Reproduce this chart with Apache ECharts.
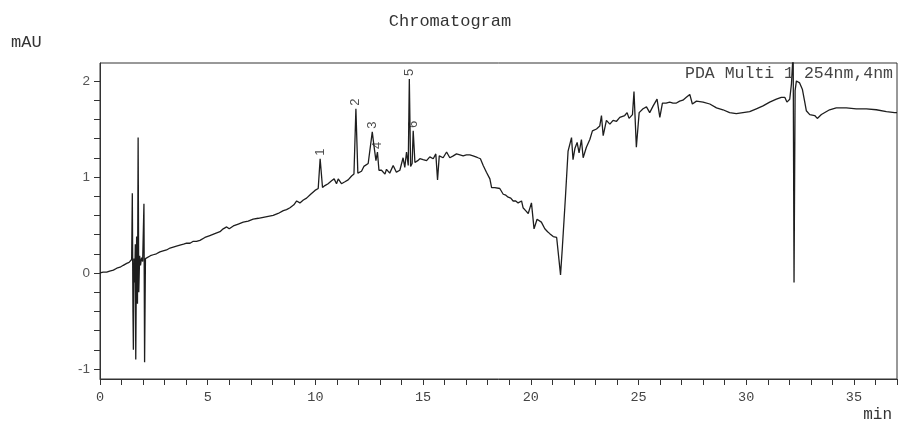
<!DOCTYPE html>
<html>
<head>
<meta charset="utf-8">
<script src="https://cdn.jsdelivr.net/npm/echarts@6/dist/echarts.min.js"></script>
<style>
  html, body { margin: 0; padding: 0; background: #fff; }
  #chart { width: 900px; height: 422px; }
</style>
</head>
<body>
<div id="chart"></div>
<script>
// Retention time (min) of each recorded point
const retentionTime = [
  0.00, 0.15, 0.31, 0.45, 0.62, 0.78, 0.93, 1.08, 1.24, 1.35,
  1.47, 1.50, 1.53, 1.55, 1.58, 1.61, 1.64, 1.66, 1.70, 1.74,
  1.77, 1.80, 1.84, 1.88, 1.93, 1.98, 2.02, 2.04, 2.07, 2.11,
  2.20, 2.34, 2.47, 2.62, 2.78, 2.93, 3.09, 3.25, 3.40, 3.55,
  3.71, 3.88, 4.02, 4.18, 4.33, 4.48, 4.64, 4.87, 5.10, 5.33,
  5.57, 5.72, 5.88, 6.00, 6.06, 6.19, 6.42, 6.65, 6.88, 7.11,
  7.35, 7.58, 7.81, 8.04, 8.27, 8.51, 8.66, 8.82, 9.00, 9.13,
  9.28, 9.44, 9.59, 9.78, 9.98, 10.13, 10.22, 10.33, 10.44, 10.59,
  10.75, 10.87, 10.98, 11.06, 11.21, 11.37, 11.52, 11.68, 11.79, 11.88,
  11.97, 12.14, 12.25, 12.45, 12.64, 12.71, 12.81, 12.88, 12.95, 13.07,
  13.23, 13.30, 13.45, 13.61, 13.76, 13.92, 14.07, 14.15, 14.23, 14.31,
  14.36, 14.42, 14.49, 14.54, 14.62, 14.75, 14.85, 15.00, 15.16, 15.31,
  15.47, 15.59, 15.67, 15.75, 15.93, 16.09, 16.24, 16.40, 16.55, 16.71,
  16.86, 17.01, 17.17, 17.32, 17.45, 17.55, 17.66, 17.79, 17.94, 18.10,
  18.18, 18.33, 18.56, 18.72, 18.84, 18.95, 19.07, 19.18, 19.30, 19.41,
  19.57, 19.64, 19.76, 19.88, 20.03, 20.15, 20.29, 20.49, 20.65, 20.78,
  20.88, 21.04, 21.11, 21.20, 21.27, 21.38, 21.46, 21.53, 21.61, 21.73,
  21.89, 21.96, 22.05, 22.15, 22.24, 22.35, 22.43, 22.58, 22.74, 22.86,
  23.05, 23.20, 23.28, 23.36, 23.51, 23.67, 23.82, 23.98, 24.13, 24.36,
  24.47, 24.56, 24.72, 24.79, 24.90, 25.03, 25.21, 25.37, 25.52, 25.68,
  25.86, 25.99, 26.11, 26.28, 26.45, 26.60, 26.76, 26.91, 27.06, 27.22,
  27.38, 27.50, 27.69, 28.00, 28.31, 28.62, 28.92, 29.23, 29.54, 29.85,
  30.16, 30.47, 30.78, 31.09, 31.40, 31.63, 31.79, 31.89, 32.02, 32.10,
  32.18, 32.22, 32.27, 32.33, 32.48, 32.61, 32.71, 32.79, 32.95, 33.18,
  33.30, 33.49, 33.87, 34.18, 34.65, 35.11, 35.58, 36.04, 36.51, 36.89,
  37.00
];

// Detector response (mAU) at each retention time
const absorbance = [
  0.00, 0.01, 0.01, 0.02, 0.03, 0.05, 0.06, 0.08, 0.10, 0.11,
  0.14, 0.83, -0.40, -0.80, 0.15, -0.10, 0.30, -0.90, 0.38, -0.32,
  1.41, -0.20, 0.18, 0.08, 0.16, 0.12, 0.13, 0.72, -0.93, 0.15,
  0.16, 0.18, 0.19, 0.20, 0.22, 0.23, 0.24, 0.26, 0.27, 0.28,
  0.29, 0.30, 0.31, 0.31, 0.33, 0.33, 0.34, 0.37, 0.39, 0.41,
  0.43, 0.46, 0.48, 0.46, 0.45, 0.49, 0.51, 0.53, 0.54, 0.56,
  0.57, 0.58, 0.59, 0.60, 0.62, 0.65, 0.66, 0.68, 0.71, 0.75,
  0.73, 0.76, 0.78, 0.82, 0.86, 0.88, 1.19, 0.89, 0.91, 0.93,
  0.96, 0.98, 0.93, 0.98, 0.93, 0.95, 0.97, 1.01, 1.03, 1.71,
  1.04, 1.06, 1.11, 1.14, 1.47, 1.34, 1.17, 1.26, 1.07, 1.07,
  1.03, 1.08, 1.04, 1.12, 1.05, 1.07, 1.20, 1.10, 1.26, 1.12,
  2.02, 1.11, 1.14, 1.48, 1.15, 1.17, 1.19, 1.18, 1.17, 1.21,
  1.19, 1.24, 0.97, 1.22, 1.20, 1.26, 1.20, 1.22, 1.24, 1.23,
  1.22, 1.23, 1.23, 1.22, 1.21, 1.20, 1.19, 1.12, 1.05, 0.98,
  0.89, 0.89, 0.88, 0.82, 0.81, 0.79, 0.78, 0.75, 0.75, 0.73,
  0.75, 0.68, 0.65, 0.62, 0.73, 0.46, 0.56, 0.53, 0.46, 0.43,
  0.41, 0.38, 0.40, 0.37, 0.37, -0.02, 0.25, 0.27, 0.80, 1.27,
  1.41, 1.18, 1.30, 1.36, 1.25, 1.39, 1.20, 1.31, 1.39, 1.48,
  1.50, 1.53, 1.64, 1.43, 1.59, 1.55, 1.59, 1.58, 1.62, 1.64,
  1.67, 1.61, 1.65, 1.89, 1.31, 1.67, 1.71, 1.73, 1.67, 1.74,
  1.81, 1.62, 1.77, 1.77, 1.78, 1.77, 1.77, 1.79, 1.80, 1.83,
  1.86, 1.76, 1.79, 1.78, 1.76, 1.72, 1.70, 1.67, 1.66, 1.67,
  1.68, 1.71, 1.74, 1.78, 1.81, 1.83, 1.83, 1.78, 1.81, 1.97,
  2.30, -0.10, 1.90, 2.00, 1.98, 1.91, 1.79, 1.69, 1.65, 1.64,
  1.61, 1.65, 1.70, 1.72, 1.72, 1.71, 1.71, 1.70, 1.68, 1.67,
  1.67
];

// Numbered peaks and their apex retention times
const peakNumbers = ['1', '2', '3', '4', '5', '6'];
const peakTimes = [10.22, 11.88, 12.64, 12.88, 14.36, 14.54];

// Axis ticks
const xTickStep = 1;
const xLabelStep = 5;
const yTicks = [-1, -0.8, -0.6, -0.4, -0.2, 0, 0.2, 0.4, 0.6, 0.8, 1, 1.2, 1.4, 1.6, 1.8, 2];
const yLabels = [-1, 0, 1, 2];

const trace = retentionTime.map((t, i) => [t, absorbance[i]]);
const peaks = peakTimes.map((t, i) => {
  const idx = retentionTime.indexOf(t);
  return { value: [t, absorbance[idx]], name: peakNumbers[i] };
});

const mono = '"Liberation Mono", "DejaVu Sans Mono", monospace';
const sans = '"Liberation Sans", Arial, sans-serif';

const chart = echarts.init(document.getElementById('chart'), null, { renderer: 'canvas' });
chart.setOption({
  animation: false,
  backgroundColor: '#ffffff',
  title: [
    { text: 'Chromatogram', left: 'center', top: 8,
      textStyle: { fontFamily: mono, fontSize: 17, fontWeight: 'normal', color: '#333' } },
    { text: 'mAU', left: 6, top: 29,
      textStyle: { fontFamily: mono, fontSize: 17, fontWeight: 'normal', color: '#333' } },
    { text: 'min', right: 3, top: 402,
      textStyle: { fontFamily: mono, fontSize: 16, fontWeight: 'normal', color: '#333' } },
    { text: 'PDA Multi 1 254nm,4nm', right: 2, top: 60,
      textStyle: { fontFamily: mono, fontSize: 16.5, fontWeight: 'normal', color: '#444' } }
  ],
  grid: {
    left: 100, right: 3, top: 63, bottom: 43,
    show: true, borderColor: '#333', borderWidth: 1, backgroundColor: 'transparent'
  },
  xAxis: {
    type: 'value', min: 0, max: 37, interval: xTickStep,
    axisLine: { show: true, onZero: false, lineStyle: { color: '#333', width: 1 } },
    axisTick: { show: true, length: 6, lineStyle: { color: '#333' } },
    axisLabel: {
      margin: 11, fontFamily: mono, fontSize: 13.5, color: '#444',
      formatter: v => (Math.abs(v % xLabelStep) < 1e-9 ? String(v) : '')
    },
    splitLine: { show: false }
  },
  yAxis: {
    type: 'value', min: -1.104, max: 2.187, splitNumber: 16,
    axisLine: { show: true, onZero: false, lineStyle: { color: '#333', width: 1 } },
    axisTick: { show: true, length: 6, lineStyle: { color: '#333' }, customValues: yTicks },
    axisLabel: {
      margin: 10, fontFamily: sans, fontSize: 13.5, color: '#555',
      customValues: yLabels,
      formatter: v => (Math.abs(v - Math.round(v)) < 1e-6 ? String(Math.round(v)) : '')
    },
    splitLine: { show: false }
  },
  series: [
    {
      type: 'line',
      data: trace,
      showSymbol: false,
      symbol: 'none',
      sampling: null,
      clip: true,
      lineStyle: { color: '#1e1e1e', width: 1.3 },
      z: 2
    },
    {
      type: 'scatter',
      data: peaks,
      symbolSize: 0,
      silent: true,
      label: {
        show: true, position: 'top', distance: 3, rotate: 90,
        align: 'left', verticalAlign: 'middle',
        formatter: p => p.name,
        fontFamily: sans, fontSize: 13, color: '#222'
      },
      z: 3
    }
  ]
});
</script>
</body>
</html>
